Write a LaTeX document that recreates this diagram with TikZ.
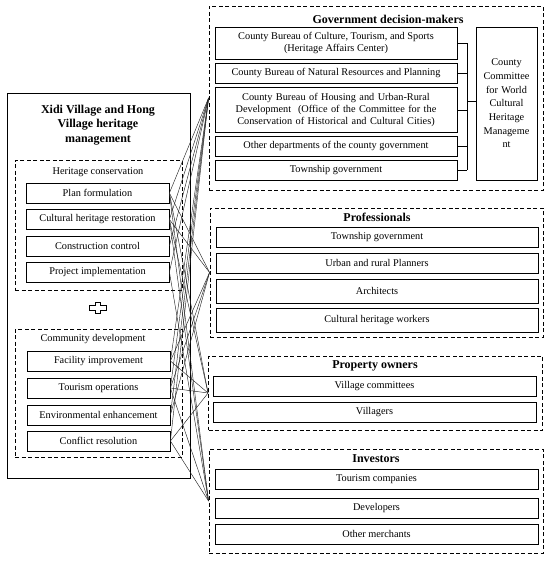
\documentclass[tikz,border=0pt]{standalone}
\usepackage{fontspec}
\setmainfont{Liberation Serif}

\begin{document}
\begin{tikzpicture}[x=1pt,y=-1pt,
    box/.style={draw,line width=0.8pt,inner sep=1pt,align=center,font=\fontsize{10.3}{12}\selectfont},
    group/.style={draw,line width=0.9pt,dash pattern=on 4pt off 2.5pt},
    title/.style={align=center,font=\fontsize{12}{14.5}\selectfont\bfseries},
    subtitle/.style={font=\fontsize{10.3}{12}\selectfont},
    link/.style={line width=0.45pt,black!85}]
  \useasboundingbox (0,0) rectangle (550,562);

  \node (main) [box,minimum width=183,minimum height=385] at (98.5,285.5) {};
  \node (maintitle) [title] at (98,125) {Xidi Village and Hong\\Village heritage\\management};

  \node (heritage) [group,minimum width=167,minimum height=130] at (98.5,225) {};
  \node (heritagetitle) [subtitle] at (98,172) {Heritage conservation};
  \node (plan) [box,minimum width=143,minimum height=20] at (97.5,193) {Plan formulation};
  \node (restore) [box,minimum width=143,minimum height=20] at (97.5,219.5) {Cultural heritage restoration};
  \node (control) [box,minimum width=143,minimum height=20] at (97.5,246) {Construction control};
  \node (project) [box,minimum width=143,minimum height=20] at (97.5,272) {Project implementation};

  \draw[line width=1.1pt] (95.5,302.5) -- (100.5,302.5) -- (100.5,305.5) -- (106.5,305.5) -- (106.5,310.5)
    -- (100.5,310.5) -- (100.5,313.5) -- (95.5,313.5) -- (95.5,310.5) -- (89.5,310.5)
    -- (89.5,305.5) -- (95.5,305.5) -- cycle;

  \node (community) [group,minimum width=167,minimum height=128] at (98.5,393) {};
  \node (communitytitle) [subtitle] at (93,339) {Community development};
  \node (facility) [box,minimum width=143,minimum height=20] at (98.5,361) {Facility improvement};
  \node (tourism) [box,minimum width=143,minimum height=20] at (98.5,388) {Tourism operations};
  \node (enviro) [box,minimum width=143,minimum height=20] at (98.5,415) {Environmental enhancement};
  \node (conflict) [box,minimum width=143,minimum height=20] at (98.5,441) {Conflict resolution};

  \node (gov) [group,minimum width=334,minimum height=184] at (376,98) {};
  \node (govtitle) [title] at (388,19) {Government decision-makers};
  \node (culture) [box,minimum width=242,minimum height=32] at (336,43) {County Bureau of Culture, Tourism, and Sports\\(Heritage Affairs Center)};
  \node (resources) [box,minimum width=242,minimum height=20] at (336,73) {County Bureau of Natural Resources and Planning};
  \node (housing) [box,minimum width=242,minimum height=45,text width=236] at (336,110) {County Bureau of Housing and Urban-Rural\\Development~ (Office of the Committee for the\\Conservation of Historical and Cultural Cities)};
  \node (otherdept) [box,minimum width=242,minimum height=20] at (336,146) {Other departments of the county government};
  \node (township) [box,minimum width=242,minimum height=20] at (336,170) {Township government};
  \node (committee) [box,minimum width=61,minimum height=153,text width=58,font=\fontsize{10.3}{13.7}\selectfont] at (506.5,103.5) {County\\Committee\\for World\\Cultural\\Heritage\\Manageme\\nt};
  \coordinate (bus) at (467,101);
  \foreach \g in {culture,resources,housing,otherdept,township}
    \draw[line width=0.8pt] (\g.east) -- (\g.east -| bus);
  \draw[line width=0.8pt] (culture.east -| bus) -- (township.east -| bus);
  \draw[line width=0.8pt] (bus) -- (bus -| committee.west);

  \node (prof) [group,minimum width=333,minimum height=129] at (376.5,272.5) {};
  \node (proftitle) [title] at (377,217) {Professionals};
  \node (proftown) [box,minimum width=322,minimum height=20] at (377,237) {Township government};
  \node (planners) [box,minimum width=322,minimum height=20] at (377,263) {Urban and rural Planners};
  \node (architects) [box,minimum width=322,minimum height=24] at (377,291) {Architects};
  \node (workers) [box,minimum width=322,minimum height=24] at (377,320) {Cultural heritage workers};

  \node (owners) [group,minimum width=334,minimum height=74] at (375.5,393) {};
  \node (ownerstitle) [title] at (375,366) {Property owners};
  \node (committees) [box,minimum width=323,minimum height=20] at (374.5,386) {Village committees};
  \node (villagers) [box,minimum width=323,minimum height=20] at (374.5,412) {Villagers};

  \node (investors) [group,minimum width=334,minimum height=104] at (376,501) {};
  \node (investorstitle) [title] at (376,459) {Investors};
  \node (companies) [box,minimum width=323,minimum height=20] at (376.5,479.5) {Tourism companies};
  \node (developers) [box,minimum width=323,minimum height=20] at (376.5,508) {Developers};
  \node (merchants) [box,minimum width=323,minimum height=20] at (376.5,534) {Other merchants};

  \foreach \t in {plan,restore,control,project,facility,tourism,enviro,conflict}
    \draw[link] (\t.east) -- (gov.west);
  \foreach \t in {plan,restore,facility,tourism,enviro}
    \draw[link] (\t.east) -- (prof.west);
  \foreach \t in {plan,restore,facility,tourism,conflict}
    \draw[link] (\t.east) -- (owners.west);
  \foreach \t in {plan,restore,project,tourism,conflict}
    \draw[link] (\t.east) -- (investors.west);
\end{tikzpicture}
\end{document}
